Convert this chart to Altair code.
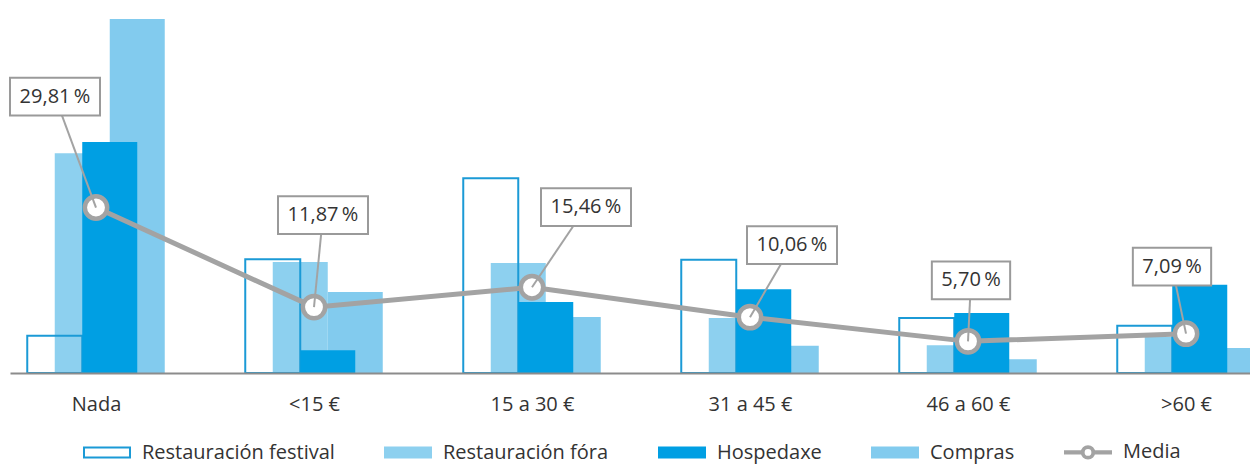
import json
import altair as alt
import pandas as pd

# ---------------- data ----------------
categories = ["Nada", "<15 €", "15 a 30 €", "31 a 45 €", "46 a 60 €", ">60 €"]
series = ["Restauración festival", "Restauración fóra", "Hospedaxe", "Compras"]
festival = [6.7, 20.5, 35.1, 20.4, 9.9, 8.5]
fora = [39.6, 20.0, 19.8, 9.9, 5.0, 6.5]
hospedaxe = [41.6, 4.1, 12.8, 15.1, 10.8, 15.9]
compras = [63.8, 14.6, 10.1, 4.9, 2.5, 4.5]
media = [29.81, 11.87, 15.46, 10.06, 5.70, 7.09]
media_name = "Media"

# annotation layout (pixel offsets of each value box from its point)
label_dx_px = [-41, 9, 54, 42, 3, -14]
label_dy_px = [111, 92, 80, 72, 61, 67]

# ---------------- layout / style ----------------
PLOT_W, PLOT_H = 1240, 365
PX_PER_CAT = 218.0
FIRST_CENTER_PX = 86.0
X0 = -FIRST_CENTER_PX / PX_PER_CAT
X1 = X0 + PLOT_W / PX_PER_CAT
PX_PER_PCT = 5.55
Y_MAX = PLOT_H / PX_PER_PCT
BAR_STEP = 27.5 / PX_PER_CAT
BAR_W = 55.0 / PX_PER_CAT

C_FEST = "#1b9ad6"
C_FORA = "#8dd0ef"
C_HOSP = "#009fe3"
C_COMP = "#82cbee"
C_GRAY = "#a3a3a3"
C_TEXT = "#333333"
FONT = "Open Sans"

# ---------------- tables ----------------
values_by_series = [festival, fora, hospedaxe, compras]
rows = []
for k, (name, vals) in enumerate(zip(series, values_by_series)):
    for i, v in enumerate(vals):
        rows.append({"idx": i, "k": k, "series": name, "value": v})
bars_df = pd.DataFrame(rows)

media_df = pd.DataFrame({
    "idx": list(range(len(categories))),
    "media": media,
    "label": [f"{v:.2f}".replace(".", ",") + "\u2009%" for v in media],
    "dxp": label_dx_px,
    "dyp": label_dy_px,
})

x_scale = alt.Scale(domain=[X0, X1], nice=False, zero=False)
y_scale = alt.Scale(domain=[0, Y_MAX], nice=False)

labels_js = json.dumps(categories, ensure_ascii=False)
x_axis = alt.Axis(
    values=list(range(len(categories))),
    labelExpr=f"{labels_js}[datum.value]",
    title=None, ticks=False, grid=False,
    domainColor="#8c8c8c", domainWidth=2,
    labelFont=FONT, labelFontSize=20, labelColor=C_TEXT,
    labelPadding=21, labelFlush=False, labelOverlap=False, zindex=1,
)

base_bars = alt.Chart(bars_df).transform_calculate(
    xa=f"datum.idx + (datum.k - 1.5) * {BAR_STEP} - {BAR_W / 2}",
    xb=f"datum.idx + (datum.k - 1.5) * {BAR_STEP} + {BAR_W / 2}",
)

def bar_layer(name, **mark):
    return base_bars.transform_filter(alt.datum.series == name).mark_bar(**mark).encode(
        x=alt.X("xa:Q", scale=x_scale, axis=x_axis),
        x2="xb:Q",
        y=alt.Y("value:Q", scale=y_scale, axis=None),
        y2=alt.datum(0),
    )

b_fora = bar_layer(series[1], color=C_FORA)
b_comp = bar_layer(series[3], color=C_COMP)
b_fest = bar_layer(series[0], fill="transparent", stroke=C_FEST, strokeWidth=2)
b_hosp = bar_layer(series[2], color=C_HOSP)

mbase = alt.Chart(media_df)
xm = alt.X("idx:Q", scale=x_scale, axis=x_axis)
ym = alt.Y("media:Q", scale=y_scale, axis=None)

line = mbase.mark_line(color=C_GRAY, strokeWidth=5).encode(x=xm, y=ym)
points = mbase.mark_point(shape="circle", filled=True, fill="white", stroke=C_GRAY,
                          strokeWidth=4.5, size=500, opacity=1).encode(x=xm, y=ym)

lab = mbase.transform_calculate(
    lx=f"datum.idx + datum.dxp / {PX_PER_CAT}",
    ly=f"datum.media + datum.dyp / {PX_PER_PCT}",
    nchar="length(datum.label)",
)
leaders = lab.mark_rule(color=C_GRAY, strokeWidth=2).encode(
    x=xm, y=ym, x2="lx:Q", y2="ly:Q"
)

def box_layer(cond, path):
    return lab.transform_filter(cond).mark_point(
        shape=path, filled=True, fill="white", stroke="#9a9a9a", strokeWidth=2,
        size=8100, opacity=1).encode(
        x=alt.X("lx:Q", scale=x_scale, axis=x_axis),
        y=alt.Y("ly:Q", scale=y_scale, axis=None),
    )

boxes_wide = box_layer("datum.nchar > 6", "M-1,-0.42H1V0.42H-1Z")
boxes_narrow = box_layer("datum.nchar <= 6", "M-0.87,-0.42H0.87V0.42H-0.87Z")
texts = lab.mark_text(font=FONT, fontSize=20, color=C_TEXT, baseline="middle").encode(
    x=alt.X("lx:Q", scale=x_scale, axis=x_axis),
    y=alt.Y("ly:Q", scale=y_scale, axis=None),
    text="label:N",
)

# ---------------- legend ----------------
legend_names = series + [media_name]
rect_path = "M-1,-0.22H1V0.22H-1Z"
media_path = ("M-1,-0.05H-0.27V0.05H-1Z M0.27,-0.05H1V0.05H0.27Z "
              "M0.27,0 A0.27,0.27 0 1,1 -0.27,0 A0.27,0.27 0 1,1 0.27,0 Z "
              "M0.19,0 A0.19,0.19 0 1,0 -0.19,0 A0.19,0.19 0 1,0 0.19,0 Z")
leg = alt.Legend(title=None, orient="none", legendX=73, legendY=420, direction="horizontal",
                 symbolSize=2116, symbolStrokeWidth=2, symbolOpacity=1,
                 labelFont=FONT, labelFontSize=20, labelColor=C_TEXT,
                 labelOffset=11, columnPadding=46, labelLimit=400)
legend_df = pd.DataFrame({"name": legend_names})
legend_layer = alt.Chart(legend_df).mark_point(opacity=0, filled=True).encode(
    fill=alt.Fill("name:N", legend=leg, scale=alt.Scale(
        domain=legend_names, range=["white", C_FORA, C_HOSP, C_COMP, C_GRAY])),
    stroke=alt.Stroke("name:N", legend=leg, scale=alt.Scale(
        domain=legend_names, range=[C_FEST, C_FORA, C_HOSP, C_COMP, C_GRAY])),
    shape=alt.Shape("name:N", legend=leg, scale=alt.Scale(
        domain=legend_names, range=[rect_path] * 4 + [media_path])),
)

chart = alt.layer(
    b_fora, b_comp, b_fest, b_hosp, line, points, leaders,
    boxes_wide, boxes_narrow, texts, legend_layer
).properties(
    width=PLOT_W, height=PLOT_H,
    autosize="none",
    padding={"left": 2, "top": 0, "right": 0, "bottom": 92},
    view=alt.ViewBackground(stroke="transparent", strokeWidth=0),
).configure_view(strokeOpacity=0, strokeWidth=0).configure(font=FONT)

chart.save("out.html", embed_options={"renderer": "svg", "actions": False})
